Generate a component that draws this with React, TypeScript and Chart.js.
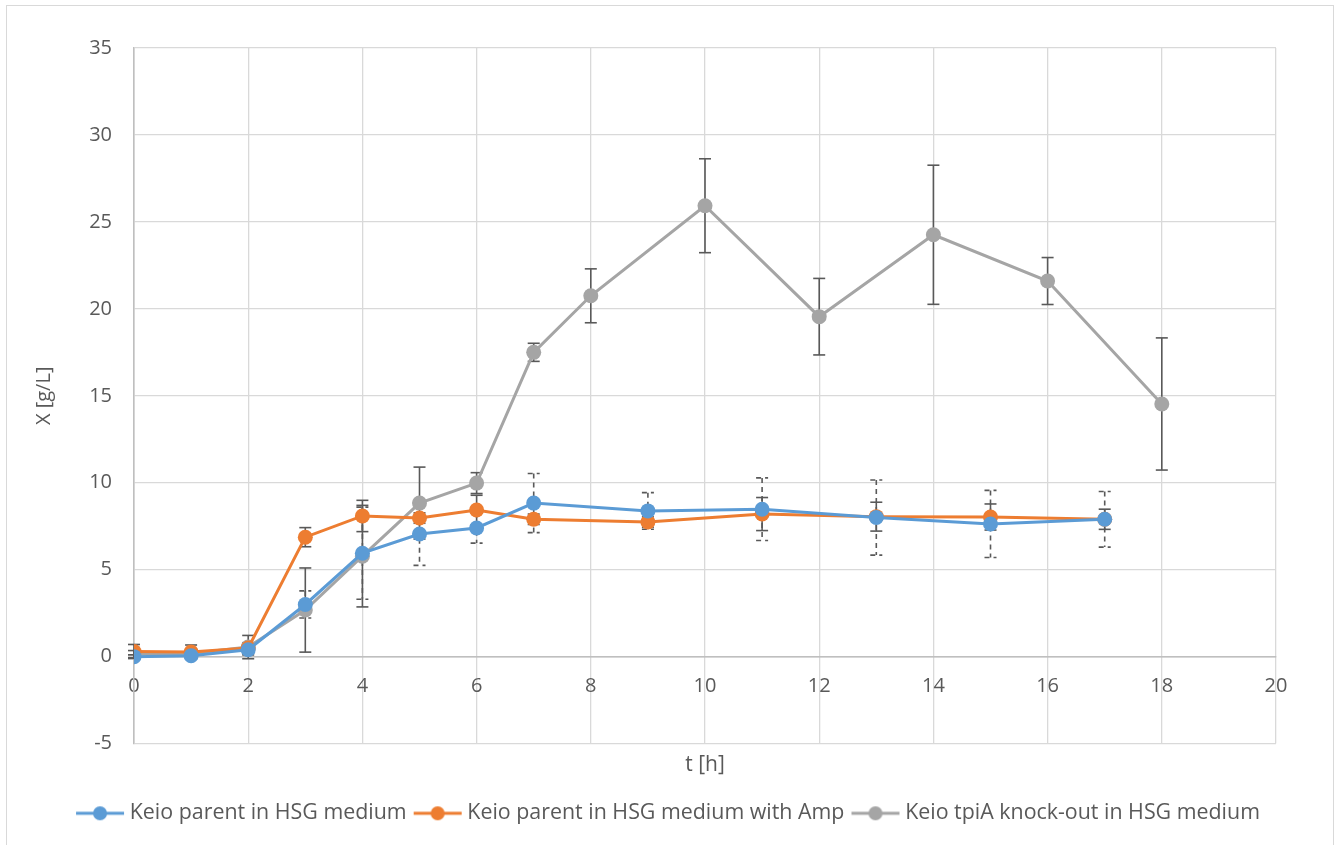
import React, { useEffect, useRef } from "react";
import { Chart, registerables } from "chart.js";

Chart.register(...registerables);

// ---- data ----
const parentTimes = [0, 1, 2, 3, 4, 5, 6, 7, 9, 11, 13, 15, 17];
const parentValues = [0.0, 0.05, 0.4, 3.0, 5.95, 7.05, 7.4, 8.83, 8.38, 8.48, 8.0, 7.63, 7.9];
const parentErrors = [0.1, 0.1, 0.3, 0.78, 2.65, 1.8, 0.87, 1.7, 1.05, 1.8, 2.16, 1.93, 1.6];

const ampTimes = [0, 1, 2, 3, 4, 5, 6, 7, 9, 11, 13, 15, 17];
const ampValues = [0.3, 0.27, 0.5, 6.87, 8.09, 7.97, 8.43, 7.9, 7.74, 8.2, 8.05, 8.03, 7.9];
const ampErrors = [0.4, 0.4, 0.3, 0.55, 0.9, 0.3, 0.85, 0.3, 0.3, 0.95, 0.83, 0.75, 0.58];

const tpiTimes = [0, 1, 2, 3, 4, 5, 6, 7, 8, 10, 12, 14, 16, 18];
const tpiValues = [0.15, 0.18, 0.55, 2.68, 5.78, 8.83, 9.98, 17.5, 20.75, 25.93, 19.55, 24.26, 21.6, 14.53];
const tpiErrors = [0.2, 0.2, 0.67, 2.42, 2.92, 2.07, 0.6, 0.52, 1.55, 2.7, 2.2, 4.0, 1.35, 3.8];

const seriesLabels = [
  "Keio parent in HSG medium",
  "Keio parent in HSG medium with Amp",
  "Keio tpiA knock-out in HSG medium",
];
const seriesColors = ["#5B9BD5", "#ED7D31", "#A5A5A5"];
const errorDashes = [[5, 4], [], []];

const xTitle = "t [h]";
const yTitle = "X [g/L]";

const FONT = "'Open Sans', 'Noto Sans', sans-serif";
const TEXT = "#595959";

function toPoints(xs: number[], ys: number[]) {
  return xs.map((x, i) => ({ x, y: ys[i] }));
}

const allErrors = [parentErrors, ampErrors, tpiErrors];

function legendIcon(color: string) {
  const c = document.createElement("canvas");
  c.width = 52;
  c.height = 18;
  const g = c.getContext("2d")!;
  g.strokeStyle = color;
  g.lineWidth = 3;
  g.beginPath();
  g.moveTo(2, 9);
  g.lineTo(50, 9);
  g.stroke();
  g.fillStyle = color;
  g.beginPath();
  g.arc(26, 9, 7, 0, Math.PI * 2);
  g.fill();
  return c;
}

const errorBarPlugin = {
  id: "errorBars",
  beforeDatasetsDraw(chart: any) {
    const ctx = chart.ctx;
    const xs = chart.scales.x;
    const ys = chart.scales.y;
    chart.data.datasets.forEach((ds: any, i: number) => {
      const errs = allErrors[i];
      ctx.save();
      ctx.strokeStyle = "#595959";
      ctx.lineWidth = 1.6;
      ctx.setLineDash(errorDashes[i]);
      ds.data.forEach((p: any, j: number) => {
        const e = errs[j];
        const px = xs.getPixelForValue(p.x);
        const top = ys.getPixelForValue(p.y + e);
        const bot = ys.getPixelForValue(p.y - e);
        ctx.beginPath();
        ctx.moveTo(px, top);
        ctx.lineTo(px, bot);
        ctx.stroke();
        ctx.beginPath();
        ctx.moveTo(px - 6, top);
        ctx.lineTo(px + 6, top);
        ctx.stroke();
        ctx.beginPath();
        ctx.moveTo(px - 6, bot);
        ctx.lineTo(px + 6, bot);
        ctx.stroke();
      });
      ctx.restore();
    });
  },
};

const xTitlePlugin = {
  id: "xTitle",
  afterDraw(chart: any) {
    const ctx = chart.ctx;
    const a = chart.chartArea;
    ctx.save();
    ctx.fillStyle = TEXT;
    ctx.font = `21px ${FONT}`;
    ctx.textAlign = "center";
    ctx.textBaseline = "middle";
    ctx.fillText(xTitle, (a.left + a.right) / 2, 765);
    ctx.restore();
  },
};

export default function App() {
  const ref = useRef<HTMLCanvasElement>(null);

  useEffect(() => {
    if (!ref.current) return;
    const icons = seriesColors.map(legendIcon);
    const mk = (i: number, xs: number[], ys: number[]) => ({
      label: seriesLabels[i],
      data: toPoints(xs, ys),
      xAxisID: "x",
      yAxisID: "y",
      borderColor: seriesColors[i],
      backgroundColor: seriesColors[i],
      borderWidth: 3,
      pointRadius: 7.5,
      pointHoverRadius: 7.5,
      pointBorderWidth: 0,
      pointBackgroundColor: seriesColors[i],
      tension: 0,
    });
    const chart = new Chart(ref.current, {
      type: "line",
      data: {
        datasets: [
          mk(0, parentTimes, parentValues),
          mk(1, ampTimes, ampValues),
          mk(2, tpiTimes, tpiValues),
        ],
      },
      options: {
        animation: false,
        responsive: true,
        maintainAspectRatio: false,
        layout: { padding: { left: 0, top: 48, right: 0, bottom: 11 } },
        plugins: {
          tooltip: { enabled: false },
          legend: {
            position: "bottom",
            labels: {
              color: TEXT,
              font: { family: FONT, size: 21.4 },
              usePointStyle: true,
              pointStyleWidth: 38,
              padding: 12,
              generateLabels(chart: any) {
                const items = Chart.defaults.plugins.legend.labels.generateLabels(chart);
                items.forEach((it: any, k: number) => {
                  it.pointStyle = icons[k];
                });
                return items;
              },
            },
          },
        },
        scales: {
          x: {
            type: "linear",
            position: { y: 0 } as any,
            min: 0,
            max: 20,
            ticks: {
              stepSize: 2,
              color: TEXT,
              font: { family: FONT, size: 20 },
              padding: 18,
              maxRotation: 0,
            },
            grid: {
              drawTicks: false,
              color: (c: any) => (c.tick && c.tick.value === 0 ? "#BFBFBF" : "#D9D9D9"),
              lineWidth: 1.3,
            },
            border: { color: "#BFBFBF", width: 1.5 },
          },
          y: {
            type: "linear",
            min: -5,
            max: 35,
            afterFit(scale: any) {
              scale.width = 134;
            },
            ticks: {
              stepSize: 5,
              color: TEXT,
              font: { family: FONT, size: 20 },
              padding: 22,
            },
            grid: {
              drawTicks: false,
              color: (c: any) => (c.tick && c.tick.value === 0 ? "#BFBFBF" : "#D9D9D9"),
              lineWidth: 1.3,
            },
            border: { color: "#BFBFBF", width: 1.5 },
            title: {
              display: true,
              text: yTitle,
              color: TEXT,
              font: { family: FONT, size: 20 },
              padding: { top: 32, bottom: 0 },
            },
          },
          xSpace: {
            type: "linear",
            position: "bottom",
            display: true,
            min: 0,
            max: 20,
            ticks: { display: false },
            grid: { display: false },
            border: { display: false },
            afterFit(scale: any) {
              scale.height = 47;
            },
          },
          ySpace: {
            type: "linear",
            position: "right",
            display: true,
            min: 0,
            max: 1,
            ticks: { display: false },
            grid: { display: false },
            border: { display: false },
            afterFit(scale: any) {
              scale.width = 65;
            },
          },
        },
      },
      plugins: [errorBarPlugin, xTitlePlugin],
    } as any);
    return () => chart.destroy();
  }, []);

  return (
    <div
      style={{
        position: "fixed",
        left: 0,
        top: 0,
        width: 1341,
        height: 845,
        background: "#fff",
        overflow: "hidden",
      }}
    >
      <div
        style={{
          position: "absolute",
          left: 6,
          top: 5,
          width: 1328,
          height: 860,
          border: "1.5px solid #D9D9D9",
          boxSizing: "border-box",
        }}
      />
      <div style={{ position: "absolute", left: 0, top: 0, width: 1341, height: 845 }}>
        <canvas ref={ref} />
      </div>
    </div>
  );
}
